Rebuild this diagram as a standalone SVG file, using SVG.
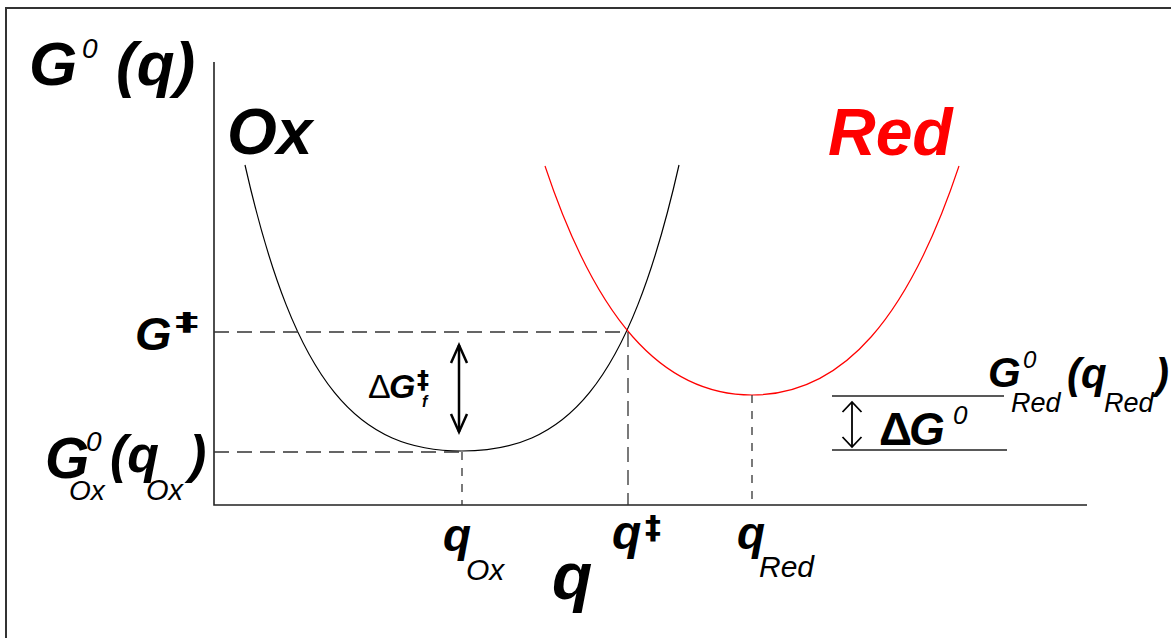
<svg xmlns="http://www.w3.org/2000/svg" width="1171" height="638" viewBox="0 0 1171 638">
<style>
text{font-family:"Liberation Sans",Arial,sans-serif;fill:#000}
.bi{font-weight:bold;font-style:italic}
.it{font-style:italic}
.dg{font-family:"DejaVu Sans",sans-serif;font-weight:bold}
.guide{stroke:#333;stroke-width:1.3;fill:none;stroke-dasharray:15 8}
.tick{stroke:#333;stroke-width:1.3;fill:none;stroke-dasharray:8 8}
.axis{stroke:#222;stroke-width:1.6;fill:none}
.lvl{stroke:#222;stroke-width:1.4;fill:none}
</style>
<defs>
<marker id="headL" markerUnits="userSpaceOnUse" viewBox="-20 -12 24 24" markerWidth="24" markerHeight="24" refX="0" refY="0" orient="auto-start-reverse" overflow="visible">
<path d="M-18,-8 L0,0 L-18,8" fill="none" stroke="#000" stroke-width="2.5"/>
</marker>
<marker id="headS" markerUnits="userSpaceOnUse" viewBox="-20 -12 24 24" markerWidth="24" markerHeight="24" refX="0" refY="0" orient="auto-start-reverse" overflow="visible">
<path d="M-10,-9.5 L0,0 L-10,9.5" fill="none" stroke="#000" stroke-width="1.8"/>
</marker>
</defs>
<rect x="6" y="8" width="1200" height="700" fill="#fff" stroke="#333" stroke-width="2"/>
<g id="axes">
<path class="axis" d="M214,62 V505 H1087"/>
</g>
<g id="curve-ox">
<path d="M245,165 C296,390 360,451 462,451 C564,451 628,390 679,165" fill="none" stroke="#000" stroke-width="1.2"/>
</g>
<g id="curve-red">
<path d="M545,166 C595,316 660,395 752,395 C844,395 909,316 959,166" fill="none" stroke="#ff0000" stroke-width="1.2"/>
</g>
<g id="connectors">
<line class="guide" x1="214" y1="332" x2="628" y2="332"/>
<line class="guide" x1="628" y1="332" x2="628" y2="505"/>
<line class="guide" x1="214" y1="452" x2="462" y2="452" stroke-dasharray="12 6"/>
<line class="tick" x1="462" y1="452" x2="462" y2="505"/>
<line class="tick" x1="752" y1="395" x2="752" y2="505"/>
<line class="lvl" x1="832" y1="396" x2="1004" y2="396"/>
<line class="lvl" x1="832" y1="450" x2="1007" y2="450"/>
<line x1="459" y1="345" x2="459" y2="432" stroke="#000" stroke-width="2.5" marker-start="url(#headL)" marker-end="url(#headL)"/>
<line x1="852" y1="402" x2="852" y2="447" stroke="#000" stroke-width="1.8" marker-start="url(#headS)" marker-end="url(#headS)"/>
</g>
<g id="label-g0q">
<text x="29" y="85" class="bi" font-size="62">G</text>
<text x="82" y="58" class="it" font-size="28">0</text>
<text x="116" y="85" class="bi" font-size="62">(q)</text>
</g>
<g id="label-ox">
<text x="227" y="154" class="bi" font-size="64">Ox</text>
</g>
<g id="label-red">
<text x="828" y="155" class="bi" font-size="66" style="fill:#ff0000">Red</text>
</g>
<g id="label-gdagger">
<text x="135" y="350" class="bi" font-size="47">G</text>
<text class="dg" font-size="25" transform="translate(175,330) scale(1.9,1)">‡</text>
</g>
<g id="label-g0ox">
<text x="45" y="478" class="bi" font-size="57">G</text>
<text x="86" y="451" class="it" font-size="28">0</text>
<text x="69" y="500" class="it" font-size="28">Ox</text>
<text x="110" y="472" class="bi" font-size="52">(q</text>
<text x="146" y="500" class="it" font-size="29">Ox</text>
<text x="189" y="472" class="bi" font-size="52">)</text>
</g>
<g id="label-dgf">
<text x="368" y="398" font-size="34">Δ</text>
<text x="389" y="398" class="bi" font-size="34">G</text>
<text x="417" y="388" class="dg" font-size="24">‡</text>
<text x="422" y="407" class="bi" font-size="16">f</text>
</g>
<g id="label-dg0">
<text x="879" y="445" font-weight="bold" font-size="46">Δ</text>
<text x="909" y="445" class="bi" font-size="46">G</text>
<text x="953" y="424" class="it" font-size="26">0</text>
</g>
<g id="label-g0red">
<text x="988" y="387" class="bi" font-size="42">G</text>
<text x="1023" y="368" class="it" font-size="24">0</text>
<text x="1011" y="412" class="it" font-size="27">Red</text>
<text x="1067" y="388" class="bi" font-size="42">(q</text>
<text x="1104" y="412" class="it" font-size="27">Red</text>
<text x="1155" y="388" class="bi" font-size="42">)</text>
</g>
<g id="label-qox">
<text x="443" y="551" class="bi" font-size="46">q</text>
<text x="466" y="580" class="it" font-size="30">Ox</text>
</g>
<g id="label-q">
<text x="552" y="599" class="bi" font-size="66">q</text>
</g>
<g id="label-qdagger">
<text x="612" y="549" class="bi" font-size="48">q</text>
<text x="645" y="538" class="dg" font-size="32">‡</text>
</g>
<g id="label-qred">
<text x="737" y="549" class="bi" font-size="46">q</text>
<text x="759" y="577" class="it" font-size="30">Red</text>
</g>
</svg>
